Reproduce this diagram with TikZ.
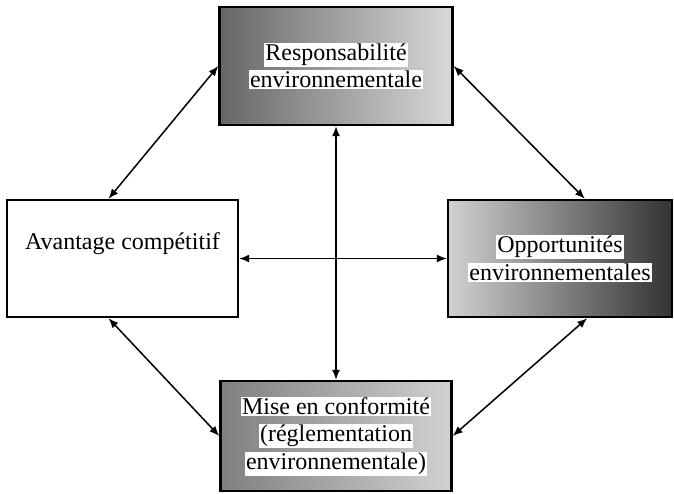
\documentclass[tikz,border=0pt]{standalone}
\usepackage{fontspec}
\setmainfont{Liberation Serif}
\usetikzlibrary{arrows.meta,calc}
\newcommand\whitebg[1]{{\setlength{\fboxsep}{1pt}\colorbox{white}{#1}}}
\tikzset{
  box/.style={draw=black, line width=2.4pt, align=center, inner sep=0pt,
    font=\fontsize{24}{27.5}\selectfont},
  link/.style={{Latex[length=10pt,width=8pt]}-{Latex[length=10pt,width=8pt]}, line width=1.5pt}
}
\begin{document}
\begin{tikzpicture}[x=1pt,y=-1pt]
\useasboundingbox (0,0) rectangle (674,493);
\node[box, minimum width=233pt, minimum height=118pt, left color=black!60, right color=black!15] (resp) at (336,66)
  {\whitebg{Responsabilité}\\\whitebg{environnementale}};
\node[box, minimum width=231pt, minimum height=117pt, fill=white] (adv) at (122.5,258.5)
  {Avantage compétitif\\\strut};
\node[box, minimum width=224pt, minimum height=117pt, left color=black!18, right color=black!80] (opp) at (560,258.5)
  {\whitebg{Opportunités}\\\whitebg{environnementales}};
\node[box, minimum width=231pt, minimum height=110pt, left color=black!50, right color=black!18] (mise) at (336,436)
  {\whitebg{Mise en conformité}\\\whitebg{(réglementation}\\\whitebg{environnementale)}};
\draw[link] ($(adv.north west)!0.44!(adv.north east)$) -- (resp.west);
\draw[link] (resp.east) -- ($(opp.north west)!0.61!(opp.north east)$);
\draw[link] ($(adv.south west)!0.44!(adv.south east)$) -- (mise.west);
\draw[link] ($(opp.south west)!0.62!(opp.south east)$) -- (mise.east);
\draw[link] (resp.south) -- (mise.north);
\draw[link] (adv.east) -- (opp.west);
\end{tikzpicture}
\end{document}
